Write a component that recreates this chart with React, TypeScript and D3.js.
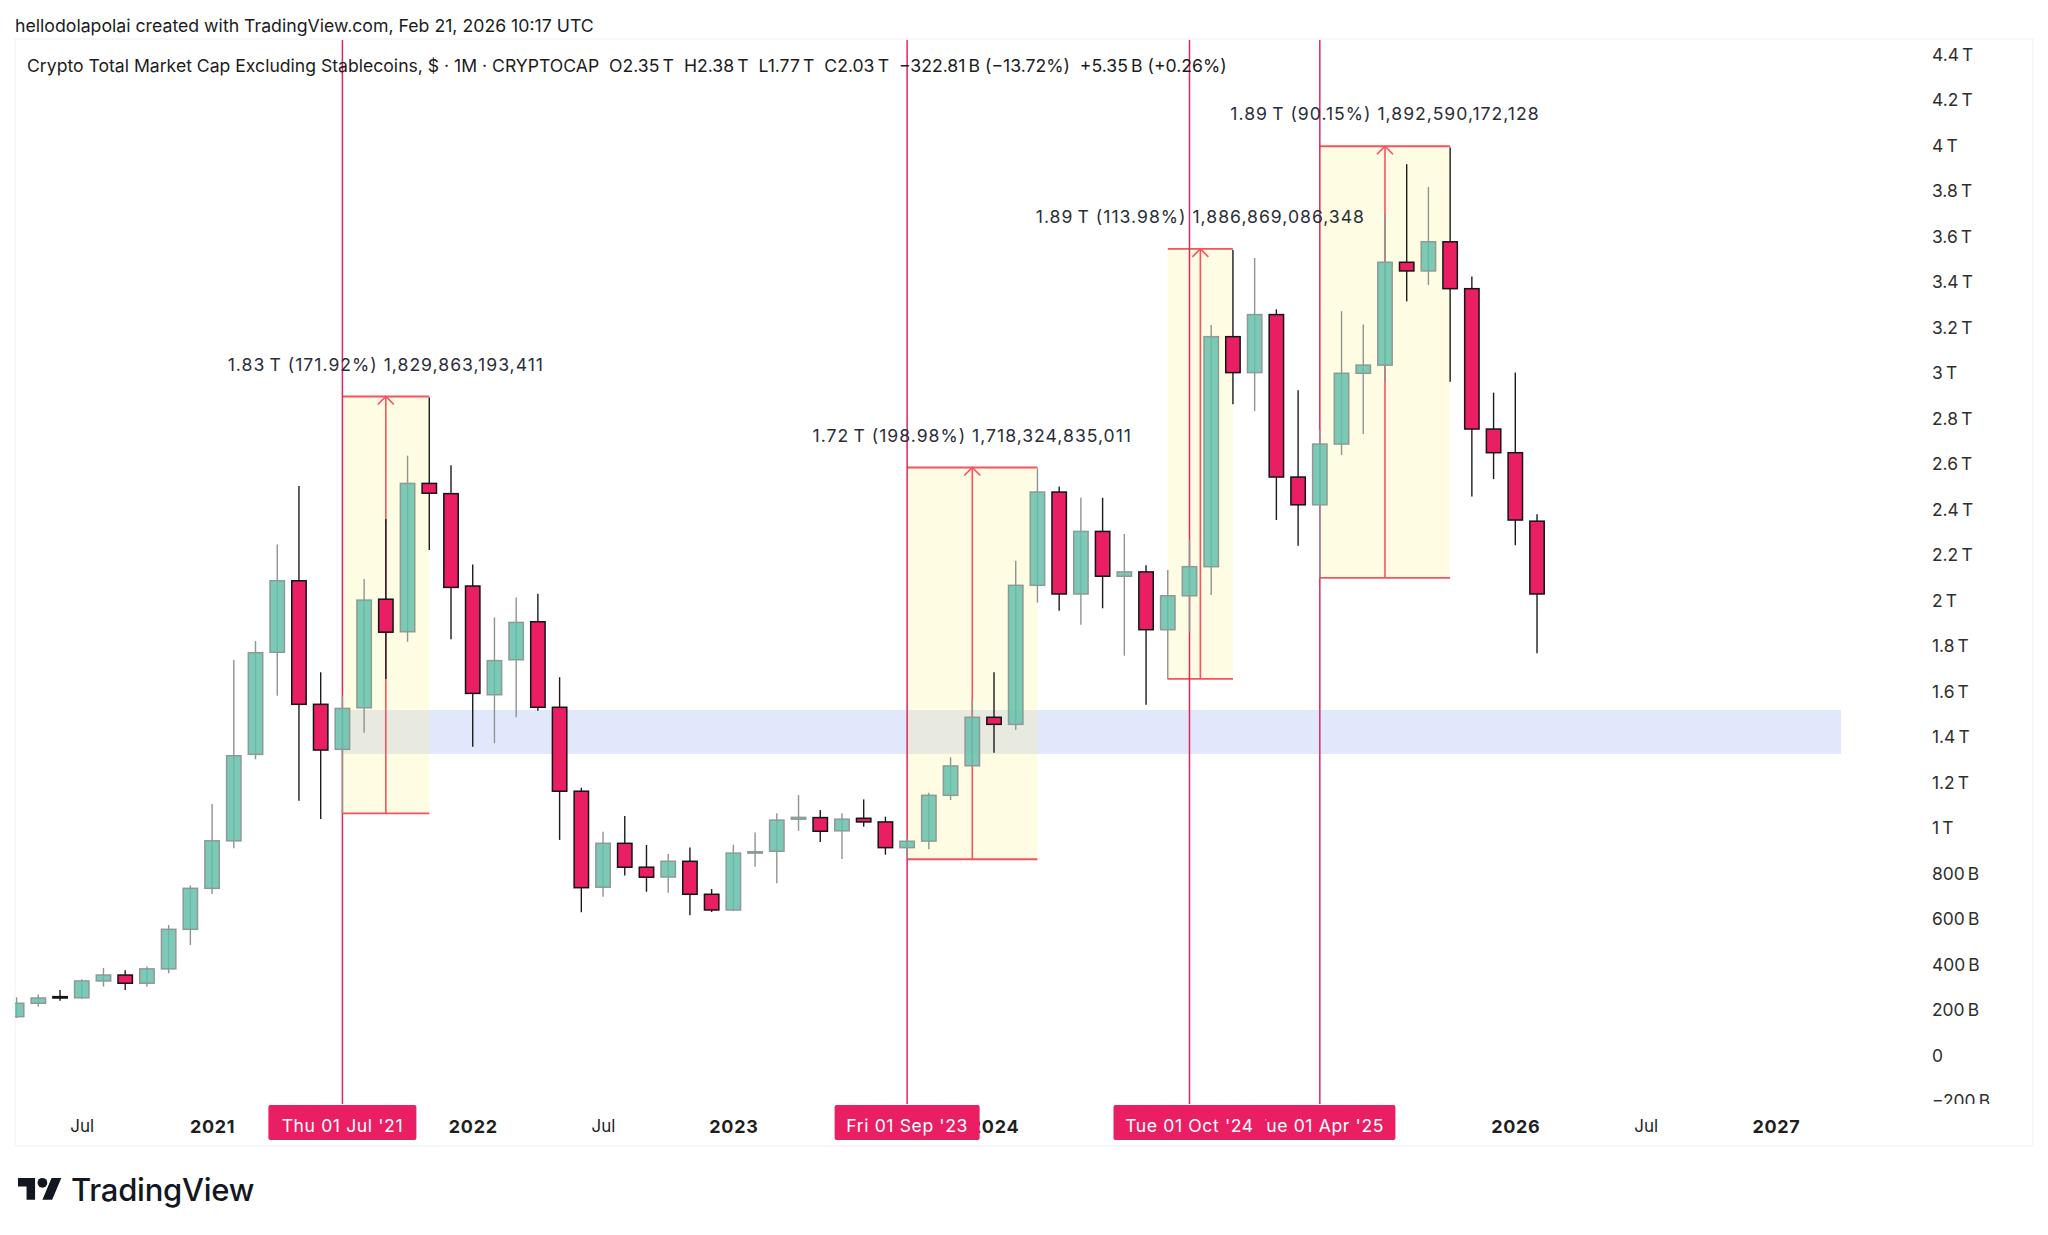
import { useEffect, useRef } from 'react';
import * as d3 from 'd3';

const WIDTH = 2048;
const HEIGHT = 1235;

// monthly candles, Apr 2020 .. Feb 2026, in billions of USD
const opens = [
  172, 231, 260, 255, 329, 355, 319, 382, 556,
  736, 945, 1325, 1774, 2088, 1545, 1347, 1530, 2007, 1864, 2516, 2471,
  2065, 1587, 1741, 1908, 1532, 1163, 741, 934, 829, 786, 855, 710,
  641, 891, 899, 1040, 1047, 989, 1044, 1028, 915, 944, 1145, 1275,
  1488, 1457, 2068, 2478, 2030, 2305, 2108, 2127, 1873, 2022, 2150, 3161,
  3003, 3258, 2544, 2422, 2689, 3000, 3036, 3488, 3450, 3578, 3372, 2755,
  2651, 2350,
];
const highs = [
  257, 270, 289, 336, 386, 376, 392, 575, 749,
  1107, 1740, 1823, 2248, 2505, 1686, 1582, 2096, 2360, 2638, 2894, 2596,
  2160, 1927, 2015, 2031, 1664, 1178, 985, 1054, 927, 887, 916, 733,
  928, 982, 1066, 1146, 1080, 1066, 1127, 1051, 960, 1156, 1312, 1567,
  1686, 2176, 2582, 2502, 2453, 2453, 2294, 2156, 2135, 2267, 3212, 3542,
  3507, 3281, 2925, 2754, 3273, 3214, 3700, 3919, 3819, 3992, 3426, 2915,
  3004, 2380,
];
const lows = [
  166, 216, 242, 251, 304, 289, 304, 363, 487,
  711, 912, 1303, 1583, 1121, 1041, 1064, 1420, 1656, 1820, 2223, 1831,
  1359, 1374, 1488, 1517, 949, 631, 699, 793, 721, 717, 618, 632,
  636, 831, 758, 989, 940, 865, 1007, 884, 864, 908, 1124, 1269,
  1332, 1432, 1992, 1956, 1895, 1967, 1759, 1543, 1655, 1864, 2025, 2864,
  2834, 2355, 2242, 2099, 2641, 2733, 2963, 3316, 3388, 2963, 2458, 2535,
  2244, 1770,
];
const closes = [
  231, 254, 254, 329, 355, 319, 382, 556, 736,
  945, 1319, 1772, 2088, 1545, 1344, 1527, 2003, 1862, 2516, 2473, 2059,
  1593, 1737, 1905, 1532, 1163, 739, 934, 829, 785, 855, 710, 641,
  891, 897, 1036, 1048, 987, 1040, 1028, 915, 943, 1145, 1274, 1488,
  1457, 2068, 2478, 2030, 2305, 2108, 2127, 1873, 2022, 2150, 3161, 3003,
  3258, 2544, 2422, 2689, 3000, 3036, 3488, 3450, 3578, 3372, 2755, 2651,
  2355, 2030,
];

const priceTicks = [
  -200, 0, 200, 400, 600, 800, 1000, 1200, 1400, 1600, 1800, 2000, 2200, 2400,
  2600, 2800, 3000, 3200, 3400, 3600, 3800, 4000, 4200, 4400,
];
// month index counted from Apr 2020
const timeTicks = [3, 9, 21, 27, 33, 45, 69, 75, 81];
const timeTickLabels = ['Jul', '2021', '2022', 'Jul', '2023', '2024', '2026', 'Jul', '2027'];

const rangeStarts = [15, 41, 53, 60];
const rangeEnds = [19, 47, 56, 66];
const rangeLows = [1066, 864, 1657, 2101];
const rangeHighs = [2898, 2586, 3547, 3998];
const rangeLabels = [
  '1.83\u2009T (171.92%) 1,829,863,193,411',
  '1.72\u2009T (198.98%) 1,718,324,835,011',
  '1.89\u2009T (113.98%) 1,886,869,086,348',
  '1.89\u2009T (90.15%) 1,892,590,172,128',
];

const markerMonths = [15, 41, 60, 54];
const markerLabels = ["Thu 01 Jul '21", "Fri 01 Sep '23", "Tue 01 Apr '25", "Tue 01 Oct '24"];
const markerHalfWidths = [74, 72.5, 75.6, 76];

const zoneLow = 1327;
const zoneHigh = 1520;
const zoneStart = 15;
const zoneEnd = 84;

const FONT = 'Inter, "Noto Sans", sans-serif';
const PINK = '#e91e63';
const RANGE_RED = '#f7525f';

const formatPrice = (v: number) => {
  if (v === 0) return '0';
  if (v < 0) return `\u2212${-v}\u2009B`;
  return v >= 1000 ? `${v / 1000}\u2009T` : `${v}\u2009B`;
};

export default function App() {
  const svgRef = useRef<SVGSVGElement>(null);

  useEffect(() => {
    if (!svgRef.current) return;
    const svg = d3.select(svgRef.current);
    svg.selectAll('*').remove();

    const x = d3.scaleLinear().domain([0, 84]).range([16.6, 1841.1]);
    const y = d3.scaleLinear().domain([0, 4400]).range([1055.8, 54.8]);
    const plot = { left: 15, right: 2033, top: 40, bottom: 1104, frameBottom: 1146 };

    svg.append('rect').attr('width', WIDTH).attr('height', HEIGHT).attr('fill', '#ffffff');

    const defs = svg.append('defs');
    defs.append('clipPath').attr('id', 'plot-clip').append('rect')
      .attr('x', plot.left).attr('y', plot.top)
      .attr('width', plot.right - plot.left).attr('height', plot.bottom - plot.top);

    // panel frame
    svg.append('rect')
      .attr('x', plot.left).attr('y', plot.top - 1)
      .attr('width', plot.right - plot.left).attr('height', plot.frameBottom - plot.top + 1)
      .attr('fill', 'none').attr('stroke', '#f5f5f5').attr('stroke-width', 1.5);

    const g = svg.append('g').attr('clip-path', 'url(#plot-clip)');

    // support zone
    g.append('rect')
      .attr('x', x(zoneStart)).attr('y', y(zoneHigh))
      .attr('width', x(zoneEnd) - x(zoneStart)).attr('height', y(zoneLow) - y(zoneHigh))
      .attr('fill', '#e2e8fb');

    // date and price ranges
    rangeStarts.forEach((start, i) => {
      const x0 = x(start);
      const x1 = x(rangeEnds[i]);
      const mid = (x0 + x1) / 2;
      const top = y(rangeHighs[i]);
      const bottom = y(rangeLows[i]);
      g.append('rect')
        .attr('x', x0).attr('y', top).attr('width', x1 - x0).attr('height', bottom - top)
        .attr('fill', 'rgba(251,242,138,0.24)');
      [top, bottom].forEach((ly) => {
        g.append('line').attr('x1', x0).attr('x2', x1).attr('y1', ly).attr('y2', ly)
          .attr('stroke', RANGE_RED).attr('stroke-width', 1.8);
      });
      g.append('line').attr('x1', mid).attr('x2', mid).attr('y1', top).attr('y2', bottom)
        .attr('stroke', RANGE_RED).attr('stroke-width', 1.6);
      g.append('path')
        .attr('d', `M${mid - 8},${top + 8}L${mid},${top}L${mid + 8},${top + 8}`)
        .attr('fill', 'none').attr('stroke', RANGE_RED).attr('stroke-width', 1.6);
    });

    // vertical date markers
    g.selectAll('line.marker')
      .data(markerMonths)
      .join('line')
      .attr('class', 'marker')
      .attr('x1', (d) => x(d)).attr('x2', (d) => x(d))
      .attr('y1', plot.top).attr('y2', plot.bottom)
      .attr('stroke', '#e0255f').attr('stroke-width', 1.5);

    // candles
    const candles = g.selectAll('g.candle')
      .data(opens.map((open, i) => ({ i, open, high: highs[i], low: lows[i], close: closes[i] })))
      .join('g')
      .attr('class', 'candle');

    const isUp = (d: { open: number; close: number }) => d.close >= d.open;

    candles.append('line')
      .attr('x1', (d) => x(d.i)).attr('x2', (d) => x(d.i))
      .attr('y1', (d) => y(d.high)).attr('y2', (d) => y(d.low))
      .attr('stroke', (d) => (isUp(d) ? '#8d9492' : '#1c1c1c'))
      .attr('stroke-width', 1.4);

    candles.append('rect')
      .attr('x', (d) => x(d.i) - 7.2)
      .attr('width', 14.4)
      .attr('y', (d) => y(Math.max(d.open, d.close)))
      .attr('height', (d) => Math.abs(y(d.open) - y(d.close)))
      .attr('fill', (d) => (isUp(d) ? '#65c0ac' : PINK))
      .attr('fill-opacity', (d) => (isUp(d) ? 0.85 : 1))
      .attr('stroke', (d) => (isUp(d) ? '#8d9a96' : '#141414'))
      .attr('stroke-width', 1.5);

    // annotation text above each range
    rangeStarts.forEach((start, i) => {
      svg.append('text')
        .attr('x', (x(start) + x(rangeEnds[i])) / 2)
        .attr('y', y(rangeHighs[i]) - 32)
        .attr('dy', '0.35em')
        .attr('text-anchor', 'middle')
        .attr('font-family', FONT).attr('font-size', 17.6)
        .attr('letter-spacing', 1)
        .attr('fill', '#2a2e39')
        .text(rangeLabels[i]);
    });

    // price axis
    defs.append('clipPath').attr('id', 'axis-clip').append('rect')
      .attr('x', 1900).attr('y', 0).attr('width', 130).attr('height', plot.bottom);
    const yAxis = svg.append('g')
      .attr('clip-path', 'url(#axis-clip)')
      .append('g')
      .attr('transform', 'translate(1932,0)')
      .call(d3.axisRight(y).tickValues(priceTicks).tickSize(0).tickPadding(0)
        .tickFormat((d) => formatPrice(+d)));
    yAxis.select('.domain').remove();
    yAxis.selectAll('text')
      .attr('font-family', FONT).attr('font-size', 17.4).attr('fill', '#2e2e2e');

    // time axis
    const xAxis = svg.append('g')
      .attr('transform', 'translate(0,1120)')
      .call(d3.axisBottom(x).tickValues(timeTicks).tickSize(0).tickPadding(0)
        .tickFormat((d) => timeTickLabels[timeTicks.indexOf(+d)]));
    xAxis.select('.domain').remove();
    xAxis.selectAll('text')
      .attr('font-family', FONT).attr('fill', '#1f1f1f')
      .attr('font-size', (_d, i) => (timeTickLabels[i] === 'Jul' ? 17 : 18))
      .attr('letter-spacing', (_d, i) => (timeTickLabels[i] === 'Jul' ? 0 : 0.7))
      .attr('font-weight', (_d, i) => (timeTickLabels[i] === 'Jul' ? 400 : 700));

    // date labels on the time axis
    markerMonths.forEach((m, i) => {
      const half = markerHalfWidths[i];
      svg.append('rect')
        .attr('x', x(m) - half).attr('y', plot.bottom + 1)
        .attr('width', half * 2).attr('height', 35).attr('rx', 2)
        .attr('fill', PINK);
      svg.append('text')
        .attr('x', x(m)).attr('y', 1126).attr('dy', '0.35em')
        .attr('text-anchor', 'middle')
        .attr('font-family', FONT).attr('font-size', 17.6)
        .attr('letter-spacing', 0.6).attr('fill', '#ffffff')
        .text(markerLabels[i]);
    });

    // header texts
    svg.append('text')
      .attr('x', 15).attr('y', 26).attr('dy', '0.35em')
      .attr('font-family', FONT).attr('font-size', 17.7).attr('fill', '#1c1c1c')
      .text('hellodolapolai created with TradingView.com, Feb 21, 2026 10:17 UTC');
    svg.append('text')
      .attr('x', 27).attr('y', 66).attr('dy', '0.35em')
      .attr('font-family', FONT).attr('font-size', 17.6).attr('fill', '#1c1c1c')
      .attr('xml:space', 'preserve')
      .style('white-space', 'pre')
      .text('Crypto Total Market Cap Excluding Stablecoins, $ · 1M · CRYPTOCAP  O2.35\u2009T  H2.38\u2009T  L1.77\u2009T  C2.03\u2009T  \u2212322.81\u2009B (\u221213.72%)  +5.35\u2009B (+0.26%)');

    // TradingView logo
    const logo = svg.append('g').attr('transform', 'translate(18,1173) scale(1.22)').attr('fill', '#131722');
    logo.append('path').attr('d', 'M14 22H7V11H0V4h14v18zM28 22h-8l7.5-18h8L28 22z');
    logo.append('circle').attr('cx', 20).attr('cy', 8).attr('r', 4);
    svg.append('text')
      .attr('x', 71).attr('y', 1190).attr('dy', '0.35em')
      .attr('font-family', FONT).attr('font-size', 31).attr('font-weight', 500)
      .attr('letter-spacing', -0.25).attr('fill', '#131722')
      .text('TradingView');
  }, []);

  return (
    <svg
      ref={svgRef}
      width={WIDTH}
      height={HEIGHT}
      viewBox={`0 0 ${WIDTH} ${HEIGHT}`}
      style={{ position: 'absolute', left: 0, top: 0, display: 'block' }}
    />
  );
}
